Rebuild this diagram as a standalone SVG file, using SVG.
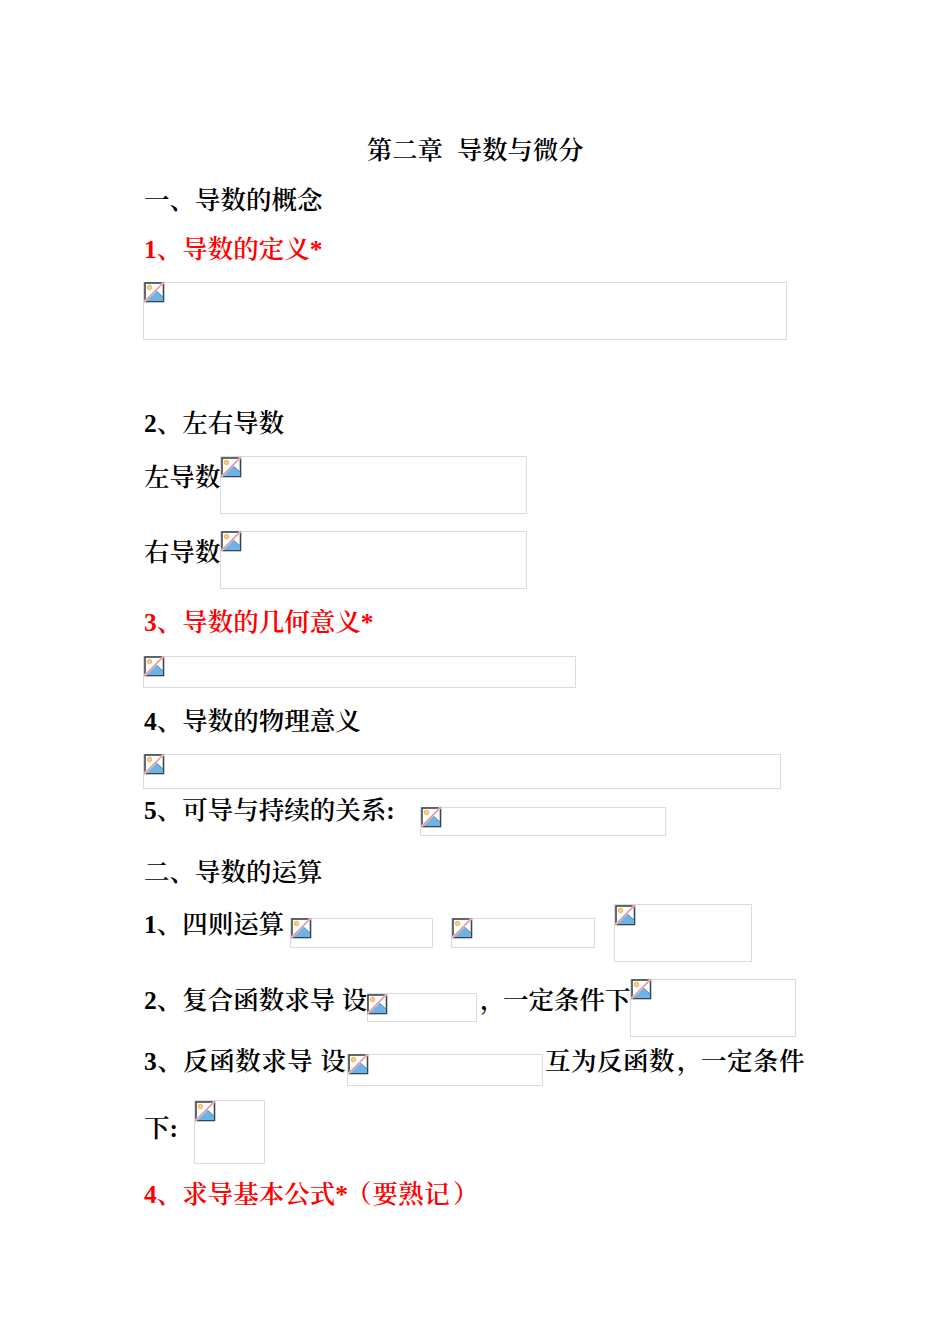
<svg xmlns="http://www.w3.org/2000/svg" width="950" height="1344" viewBox="0 0 950 1344">
<style>
text{font-family:"Liberation Serif","Noto Serif CJK SC","Noto Sans CJK SC",serif;font-size:25.5px;fill:#000;font-weight:600;white-space:pre}
.t{font-size:25.3px}
.r{fill:#f00}
.j{letter-spacing:.5px}
.b{fill:#fff;stroke:#dcdcdc;stroke-width:1}
</style>
<defs>
<g id="i">
<rect x="1" y="1" width="18.500" height="18.500" fill="#fff" stroke="#3a4550" stroke-width="1.600"/>
<path d="M2 19L12 8.500L19 15V19Z" fill="#6db3e6"/>
<path d="M2 19L12 8.500L19 15" fill="none" stroke="#3c7fb0" stroke-width=".8"/>
<circle cx="5.500" cy="5.500" r="2.200" fill="#f7d08a" stroke="#eda53e" stroke-width=".9"/>
<path d="M0 20L20 0" stroke="#fff" stroke-width="2.200"/>
<path d="M0 20L20 0" stroke="#e48a90" stroke-width="1.400"/>
</g>
</defs>
<rect width="950" height="1344" fill="#fff"/>
<text class="t" x="367" y="159">第二章</text>
<text class="t" x="457" y="159">导数与微分</text>
<text x="144" y="209">一、导数的概念</text>
<text x="144" y="258" class="r">1、导数的定义*</text>
<g id="img1"><rect class="b" x="143.500" y="282.500" width="643" height="57"/><use href="#i" x="144" y="282"/></g>
<text x="144" y="432">2、左右导数</text>
<text x="144" y="486">左导数</text>
<g id="img2"><rect class="b" x="220.500" y="456.500" width="306" height="57"/><use href="#i" x="221" y="457"/></g>
<text x="144" y="561">右导数</text>
<g id="img3"><rect class="b" x="220.500" y="531.500" width="306" height="57"/><use href="#i" x="221" y="531"/></g>
<text x="144" y="631" class="r">3、导数的几何意义*</text>
<g id="img4"><rect class="b" x="143.500" y="656.500" width="432" height="31"/><use href="#i" x="144" y="656"/></g>
<text x="144" y="730">4、导数的物理意义</text>
<g id="img5"><rect class="b" x="143.500" y="754.500" width="637" height="34"/><use href="#i" x="144" y="754"/></g>
<text x="144" y="819">5、可导与持续的关系:</text>
<g id="img6"><rect class="b" x="420.500" y="807.500" width="245" height="28"/><use href="#i" x="421" y="807"/></g>
<text x="144" y="880.500">二、导数的运算</text>
<text x="144" y="933">1、四则运算</text>
<g id="img7"><rect class="b" x="290.500" y="918.500" width="142" height="29"/><use href="#i" x="291" y="918"/></g>
<g id="img8"><rect class="b" x="451.500" y="918.500" width="143" height="29"/><use href="#i" x="452" y="918"/></g>
<g id="img9"><rect class="b" x="614.500" y="904.500" width="137" height="57"/><use href="#i" x="615" y="905"/></g>
<text x="144" y="1008.500">2、复合函数求导 设</text>
<g id="img10"><rect class="b" x="367.500" y="993.500" width="109" height="28"/><use href="#i" x="367" y="994"/></g>
<text x="480" y="1008.500">，<tspan x="503">一定条件下</tspan></text>
<g id="img11"><rect class="b" x="630.500" y="979.500" width="165" height="57"/><use href="#i" x="631" y="979"/></g>
<text x="144" y="1070" class="j">3、反函数求导 设</text>
<g id="img12"><rect class="b" x="347.500" y="1054.500" width="195" height="31"/><use href="#i" x="348" y="1054"/></g>
<text x="545" y="1070" class="j">互为反函数<tspan dx="2">，</tspan><tspan dx="-2">一定条件</tspan></text>
<text x="144" y="1137">下:</text>
<g id="img13"><rect class="b" x="194.500" y="1100.500" width="70" height="63"/><use href="#i" x="195" y="1101"/></g>
<text x="144" y="1203" class="r">4、求导基本公式*<tspan dx="-2">（</tspan><tspan dx="1" letter-spacing=".3">要熟记</tspan><tspan dx="3">）</tspan></text>
</svg>
